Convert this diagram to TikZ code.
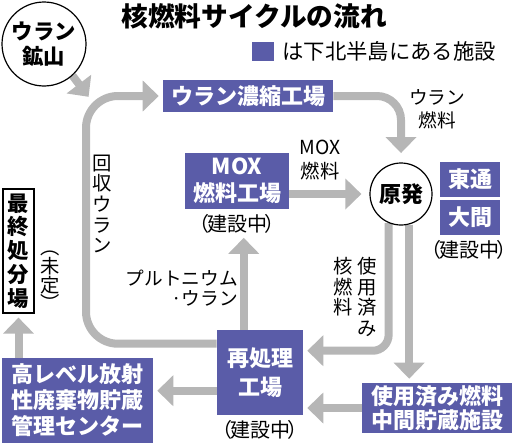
\documentclass[tikz,border=0pt]{standalone}
\usepackage{fontspec}
\setmainfont{Noto Sans CJK JP}
\usetikzlibrary{arrows.meta,calc,positioning,backgrounds}
\definecolor{shisetsu}{RGB}{90,92,168}
\definecolor{yajirushi}{RGB}{182,182,182}
\newcommand{\kensetsu}{（\kern-.12em 建設中\kern-.12em）}
\tikzset{
  shisetsubox/.style={fill=shisetsu, text=white, align=center, inner sep=0pt,
    font=\bfseries\fontsize{16.5}{19.5}\selectfont},
  maru/.style={circle, draw, line width=0.9pt, fill=white, align=center, inner sep=0pt,
    font=\bfseries\fontsize{16}{18.75}\selectfont},
  setsumei/.style={align=center, inner sep=0pt, font=\fontsize{14}{17.5}\selectfont},
  tate/.style={align=center, inner sep=0pt, font=\fontsize{14.5}{15.5}\selectfont},
  note/.style={inner sep=0pt, font=\fontsize{15}{18}\selectfont},
  flow/.style={draw=yajirushi, line width=6pt, -{Triangle[length=12pt,width=22.5pt]},
    shorten >=3pt}
}
\begin{document}
\begin{tikzpicture}[x=0.75pt,y=-0.75pt]
\useasboundingbox (0,0) rectangle (516,446);
\node (title) [inner sep=0pt, font=\bfseries\fontsize{20}{24}\selectfont] at (254,16) {核燃料サイクルの流れ};
\node (legendBox) [fill=shisetsu, minimum width=16.5pt, minimum height=14.25pt, inner sep=0pt] at (263,51.5) {};
\node (legendText) [right=6pt of legendBox, inner sep=0pt, font=\fontsize{16}{19}\selectfont] {は下北半島にある施設};

\node (kozan) [maru, minimum size=63pt] at (44,44) {ウラン\\鉱山};
\node (noshuku) [shisetsubox, minimum width=127.5pt, minimum height=24pt] at (248,96) {ウラン濃縮工場};
\node (mox) [shisetsubox, minimum width=78pt, minimum height=42pt, font=\bfseries\fontsize{16.5}{20}\selectfont] at (237,181) {MOX\\燃料工場};
\node (moxNote) [note] at (237,224) {\kensetsu};
\node (genpatsu) [maru, minimum size=46.5pt, font=\bfseries\fontsize{16.5}{20}\selectfont] at (401,194) {原発};
\node (higashidori) [shisetsubox, minimum width=45pt, minimum height=26.25pt] at (470,179.5) {東通};
\node (ooma) [shisetsubox, minimum width=45pt, minimum height=26.25pt] at (470,217.5) {大間};
\node (genpatsuNote) [note] at (469,250) {\kensetsu};
\node (saishori) [shisetsubox, minimum width=64.5pt, minimum height=63.75pt, font=\bfseries\fontsize{16.5}{21.5}\selectfont] at (260,372.5) {再処理\\工場};
\node (saishoriNote) [note] at (260,430) {\kensetsu};
\node (chukan) [shisetsubox, minimum width=112.5pt, minimum height=37.5pt, font=\bfseries\fontsize{16.5}{18}\selectfont] at (437,408) {使用済み燃料\\中間貯蔵施設};
\node (korebel) [shisetsubox, minimum width=113.25pt, minimum height=63.75pt] at (77.5,400.5) {高レベル放射\\性廃棄物貯蔵\\管理センター};
\node (saishu) [draw, fill=white, line width=0.9pt, minimum width=23.25pt, minimum height=93pt, align=center, inner sep=0pt, font=\bfseries\fontsize{16}{17.8}\selectfont] at (18.5,251) {最\\終\\処\\分\\場};
\node (mitei) [tate, font=\fontsize{14.5}{14}\selectfont] at (50,281) {︵\\未\\定\\︶};

\node (uranNenryo) [setsumei] at (437,109) {ウラン\\燃料};
\node (moxNenryo) [setsumei, font=\fontsize{14.5}{18}\selectfont] at (320,160) {MOX\\燃料};
\node (kaishuUran) [tate] at (102,204) {回\\収\\ウ\\ラ\\ン};
\node (pu) [setsumei, align=right, anchor=east, font=\fontsize{14}{15}\selectfont] at (238,288) {プルトニウム\\·ウラン};
\node (shiyozumi) [tate, anchor=north] at (367,257) {使\\用\\済\\み};
\node (kakunenryo) [tate, anchor=north] at (343,257) {核\\燃\\料};

\begin{scope}[on background layer]
\coordinate (kozanEnd) at (91,100);
\draw[flow] (kozan.-48) -- (kozanEnd);
\coordinate (kaishuStart) at ($(saishori.north west)+(0,14)$);
\coordinate (kaishuKado) at (86,220);
\draw[flow, rounded corners=24pt] (kaishuStart) -- (kaishuStart -| kaishuKado) -- (kaishuKado |- noshuku.west) -- (noshuku.west);
\draw[flow, rounded corners=18pt, shorten >=7pt] (noshuku.east) -| (genpatsu.north);
\draw[flow, shorten >=6pt] (mox.east |- genpatsu.west) -- (genpatsu.west);
\coordinate (hoshutsu) at ($(saishori.north east)+(0,21)$);
\draw[flow, rounded corners=12pt] (genpatsu.247) |- (hoshutsu);
\draw[flow] (genpatsu.285) -- (genpatsu.285 |- chukan.north);
\draw[flow] (chukan.west) -- (chukan.west -| saishori.east);
\coordinate (puStart) at ($(saishori.north west)+(27,0)$);
\draw[flow] (puStart) -- (puStart |- moxNote.south);
\coordinate (haikibutsu) at ($(saishori.north west)+(0,61)$);
\draw[flow] (haikibutsu) -- (haikibutsu -| korebel.east);
\draw[flow] (saishu.south |- korebel.north) -- (saishu.south);
\end{scope}
\end{tikzpicture}
\end{document}
